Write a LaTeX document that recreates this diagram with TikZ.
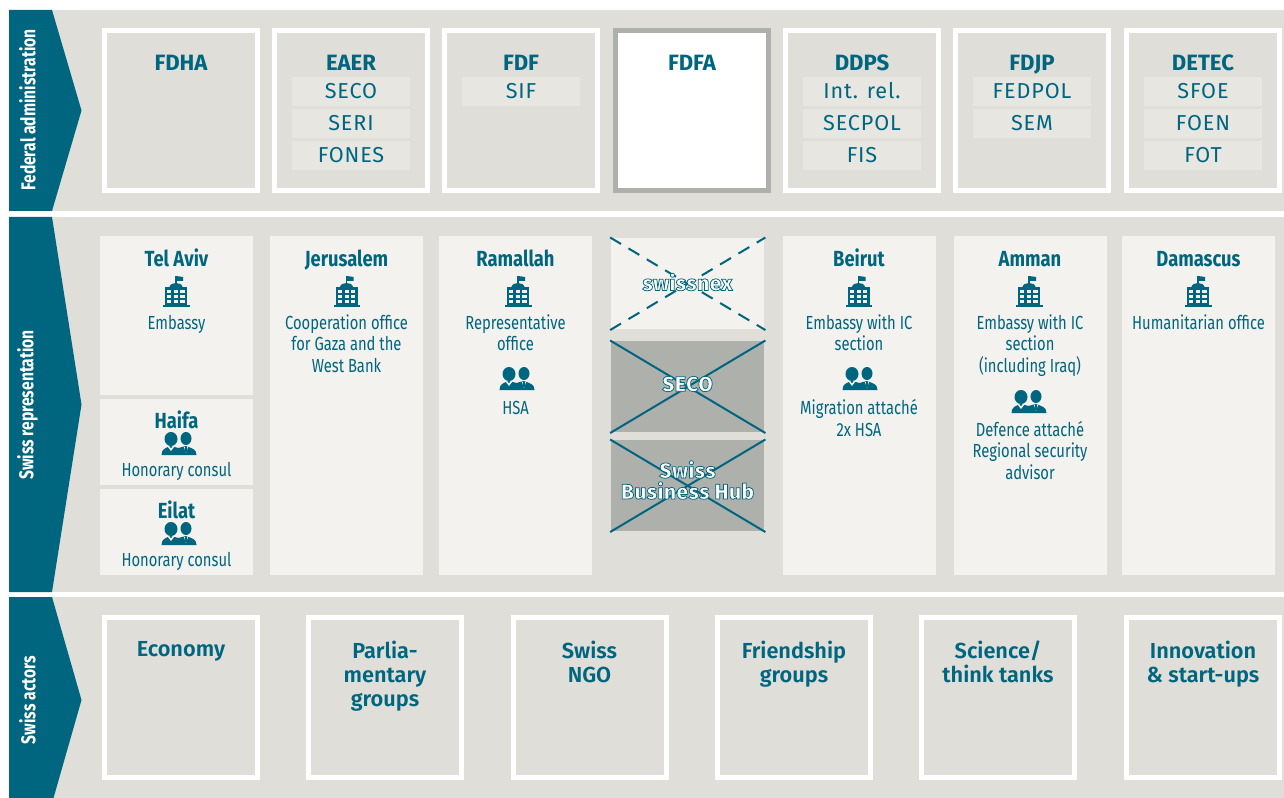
\documentclass[tikz,border=0pt]{standalone}
\usepackage{fontspec}
\setmainfont{Fira Sans}
\newfontfamily\condfont[FakeStretch=0.78]{Fira Sans}
\newfontfamily\cityfont[FakeStretch=0.84]{Fira Sans}
\newfontfamily\widefont[LetterSpace=4]{Fira Sans}
\newfontfamily\outlinefont[FakeBold=3.6, LetterSpace=2]{Fira Sans ExtraBold}
\definecolor{tealmain}{HTML}{00657F}
\definecolor{bandgrey}{HTML}{DFDED8}
\definecolor{lightpanel}{HTML}{F3F2EE}
\definecolor{subpanel}{HTML}{E7E6E1}
\definecolor{darkpanel}{HTML}{AEB0AC}
\newcommand{\px}{0.75pt}
\newcommand{\outlined}[1]{\special{pdf:code 0 0.396 0.498 RG}#1}
\tikzset{
  band/.style = {fill = bandgrey},
  arrowband/.style = {fill = tealmain},
  sidelabel/.style = {rotate = 90, text = white, font = \condfont\bfseries\fontsize{15}{18}\selectfont, inner sep = 0},
  officebox/.style = {draw = white, line width = 5*\px, fill = bandgrey, minimum width = 153*\px, minimum height = 160*\px, inner sep = 0},
  homebox/.style = {draw = darkpanel, line width = 5*\px, fill = white, minimum width = 153*\px, minimum height = 160*\px, inner sep = 0},
  officename/.style = {text = tealmain, font = \bfseries\fontsize{16.6}{18}\selectfont, text height = 11.4pt, text depth = 0pt, inner sep = 0},
  subbox/.style = {fill = subpanel, text = tealmain, font = \widefont\fontsize{16.2}{18}\selectfont, text height = 11.2pt, text depth = 0pt, minimum width = 118*\px, minimum height = 29*\px, inner sep = 0},
  panel/.style = {fill = lightpanel, anchor = north west, minimum width = 153*\px, inner sep = 0},
  darkbox/.style = {fill = darkpanel, anchor = north west, minimum width = 153*\px, minimum height = 91*\px, inner sep = 0},
  cityname/.style = {text = tealmain, font = \cityfont\bfseries\fontsize{16.4}{18}\selectfont, text height = 11.3pt, text depth = 0pt, inner sep = 0},
  citytext/.style = {text = tealmain, font = \condfont\fontsize{14.2}{16.1}\selectfont, align = center, anchor = north, inner sep = 0},
  crossline/.style = {draw = tealmain, line width = 2*\px, shorten <= -1*\px, shorten >= -1*\px},
  crossdash/.style = {crossline, dash pattern = on 9.5pt off 6.5pt},
  crosslabel/.style = {text = white, font = \outlinefont\fontsize{15.8}{15.8}\selectfont, align = center, inner sep = 0},
  actorname/.style = {text = tealmain, font = \fontspec{Fira Sans SemiBold}\fontsize{16.3}{18}\selectfont, align = center, anchor = north, inner sep = 0},
  pics/buildingicon/.style = {code = {
    \fill[tealmain] (-0.8, -16) rectangle (0.6, -8);
    \fill[tealmain] (0, -16) -- (7, -15) -- (7, -11) -- (0, -11) -- cycle;
    \fill[tealmain] (-7, -4) .. controls (-6, -8) and (-3, -9) .. (0, -9) .. controls (3, -9) and (6, -8) .. (7, -4) -- cycle;
    \fill[tealmain] (-11, -4.5) rectangle (11, 13);
    \fill[tealmain] (-13, 13) rectangle (13.5, 15);
    \fill[lightpanel] (-9, -2) rectangle (-5, 1.5);
    \fill[lightpanel] (-2, -2) rectangle (2, 1.5);
    \fill[lightpanel] (4, -2) rectangle (8.5, 1.5);
    \fill[lightpanel] (-9, 3.5) rectangle (-5, 6.5);
    \fill[lightpanel] (-2, 3.5) rectangle (2, 6.5);
    \fill[lightpanel] (4, 3.5) rectangle (8.5, 6.5);
    \fill[lightpanel] (-9, 8.5) rectangle (-5, 11.5);
    \fill[lightpanel] (-2, 8.5) rectangle (2, 11.5);
    \fill[lightpanel] (4, 8.5) rectangle (8.5, 11.5);
  }},
  pics/personsicon/.style = {code = {
    \fill[tealmain] (-6.5, -5) ellipse [x radius = 6.5, y radius = 7];
    \fill[tealmain] (8.5, -5.5) ellipse [x radius = 5.5, y radius = 6.5];
    \fill[tealmain] (-16, 11) .. controls (-16, 5) and (-12, 4) .. (-7, 2) -- (1, 4) -- (8, 2) .. controls (14, 4) and (19, 5) .. (19, 11) -- cycle;
    \fill[lightpanel] (-10, 2.5) -- (-6.5, 7) -- (-3, 2.5) -- (-4.5, 2) -- (-6.5, 4.5) -- (-8.5, 2) -- cycle;
    \fill[lightpanel] (6.2, 2.2) -- (8.5, 9) -- (10.8, 2.2) -- (9.3, 3.4) -- (8.5, 3) -- (7.7, 3.4) -- cycle;
    \fill[tealmain] (7.8, 3.2) rectangle (9.2, 8);
  }}
}
\begin{document}
\begin{tikzpicture}[x = 0.75pt, y = -0.75pt]
\useasboundingbox (0, 0) rectangle (1284, 798);

\fill[band] (9, 10) rectangle (1284, 211);
\fill[band] (9, 217) rectangle (1284, 592);
\fill[band] (9, 597) rectangle (1284, 798);
\fill[arrowband] (9, 10) -- (52, 10) -- (81.5, 110.5) -- (52, 211) -- (9, 211) -- cycle;
\fill[arrowband] (9, 217) -- (52, 217) -- (81.5, 404.5) -- (52, 592) -- (9, 592) -- cycle;
\fill[arrowband] (9, 597) -- (52, 597) -- (81.5, 700) -- (53.5, 798) -- (9, 798) -- cycle;
\node[sidelabel] (federallabel) at (27.5, 110){Federal administration};
\node[sidelabel] (representationlabel) at (27.5, 405){Swiss representation};
\node[sidelabel] (actorslabel) at (27.5, 700){Swiss actors};

\node[officebox] (fdhabox) at (181, 110.5){};
\node[officebox] (eaerbox) at (351, 110.5){};
\node[officebox] (fdfbox) at (521, 110.5){};
\node[homebox] (fdfabox) at (692, 110.5){};
\node[officebox] (ddpsbox) at (862, 110.5){};
\node[officebox] (fdjpbox) at (1032, 110.5){};
\node[officebox] (detecbox) at (1203, 110.5){};
\node[officename] (fdha) at (181, 63){FDHA};
\node[officename] (eaer) at (351, 63){EAER};
\node[officename] (fdf) at (521, 63){FDF};
\node[officename] (fdfa) at (692, 63){FDFA};
\node[officename] (ddps) at (862, 63){DDPS};
\node[officename] (fdjp) at (1032, 63){FDJP};
\node[officename] (detec) at (1203, 63){DETEC};
\node[subbox] (seco) at (351, 91.5){SECO};
\node[subbox] (seri) at (351, 123.5){SERI};
\node[subbox] (fones) at (351, 155.5){FONES};
\node[subbox] (sif) at (521, 91.5){SIF};
\node[subbox] (intrel) at (862, 91.5){Int. rel.};
\node[subbox] (secpol) at (862, 123.5){SECPOL};
\node[subbox] (fis) at (862, 155.5){FIS};
\node[subbox] (fedpol) at (1032, 91.5){FEDPOL};
\node[subbox] (sem) at (1032, 123.5){SEM};
\node[subbox] (sfoe) at (1203, 91.5){SFOE};
\node[subbox] (foen) at (1203, 123.5){FOEN};
\node[subbox] (fot) at (1203, 155.5){FOT};

\node[panel, minimum height = 159*\px] (telavivbox) at (100, 236){};
\node[panel, minimum height = 86*\px] (haifabox) at (100, 399){};
\node[panel, minimum height = 86*\px] (eilatbox) at (100, 489){};
\node[panel, minimum height = 339*\px] (jerusalembox) at (270, 236){};
\node[panel, minimum height = 339*\px] (ramallahbox) at (439, 236){};
\node[panel, minimum height = 339*\px] (beirutbox) at (783, 236){};
\node[panel, minimum height = 339*\px] (ammanbox) at (954, 236){};
\node[panel, minimum height = 339*\px] (damascusbox) at (1122, 236){};

\node[cityname] (telaviv) at (176.5, 258.5){Tel Aviv};
\node[cityname] (jerusalem) at (346.5, 258.5){Jerusalem};
\node[cityname] (ramallah) at (515.5, 258.5){Ramallah};
\node[cityname] (beirut) at (859, 258.5){Beirut};
\node[cityname] (amman) at (1030, 258.5){Amman};
\node[cityname] (damascus) at (1198.5, 258.5){Damascus};
\node[cityname] (haifa) at (176.5, 420.5){Haifa};
\node[cityname] (eilat) at (176.5, 510.5){Eilat};

\pic at (176, 292){buildingicon};
\pic at (346.5, 292){buildingicon};
\pic at (518, 292){buildingicon};
\pic at (858.5, 292){buildingicon};
\pic at (1029, 292){buildingicon};
\pic at (1198, 292){buildingicon};
\pic at (177.5, 444){personsicon};
\pic at (177.5, 534){personsicon};
\pic at (515.5, 379){personsicon};
\pic at (858.5, 379){personsicon};
\pic at (1027.5, 402){personsicon};

\node[citytext] (telavivtext) at (176.5, 315){Embassy};
\node[citytext] (jerusalemtext) at (346.5, 314.3){Cooperation office\\for Gaza and the\\West Bank};
\node[citytext] (ramallahtext) at (515.5, 314.3){Representative\\office};
\node[citytext] (ramallahhsa) at (515.5, 401){HSA};
\node[citytext] (beiruttext) at (859, 314.3){Embassy with IC\\section};
\node[citytext] (beirutstaff) at (859, 399.3){Migration attach\'e\\2x HSA};
\node[citytext] (ammantext) at (1030, 314.3){Embassy with IC\\section\\(including Iraq)};
\node[citytext] (ammanstaff) at (1030, 421){Defence attach\'e\\Regional security\\advisor};
\node[citytext] (damascustext) at (1198.5, 314.5){Humanitarian office};
\node[citytext] (haifatext) at (176.5, 462){Honorary consul};
\node[citytext] (eilattext) at (176.5, 552){Honorary consul};

\node[panel, minimum height = 91*\px] (swissnexbox) at (611, 238){};
\node[darkbox] (secobox) at (611, 341){};
\node[darkbox] (hubbox) at (611, 440){};
\draw[crossdash] (swissnexbox.north west) -- (swissnexbox.south east);
\draw[crossdash] (swissnexbox.south west) -- (swissnexbox.north east);
\draw[crossline] (secobox.north west) -- (secobox.south east);
\draw[crossline] (secobox.south west) -- (secobox.north east);
\draw[crossline] (hubbox.north west) -- (hubbox.south east);
\draw[crossline] (hubbox.south west) -- (hubbox.north east);
\node[crosslabel] (swissnex) at (687.5, 282){\outlined{swissnex}};
\node[crosslabel] (secolabel) at (687.5, 384){\outlined{SECO}};
\node[crosslabel] (hublabel) at (687.5, 480){\outlined{Swiss}\\\outlined{Business Hub}};

\node[officebox] (economybox) at (181, 697.5){};
\node[officebox] (parliamentbox) at (385, 697.5){};
\node[officebox] (ngobox) at (589.5, 697.5){};
\node[officebox] (friendshipbox) at (794, 697.5){};
\node[officebox] (sciencebox) at (998, 697.5){};
\node[officebox] (innovationbox) at (1203, 697.5){};
\node[actorname] (economy) at (181, 641){Economy};
\node[actorname] (parliament) at (385, 641){Parlia-\\mentary\\groups};
\node[actorname] (ngo) at (589.5, 641){Swiss\\NGO};
\node[actorname] (friendship) at (794, 641){Friendship\\groups};
\node[actorname] (science) at (998, 641){Science/\\think tanks};
\node[actorname] (innovation) at (1203, 641){Innovation\\\& start-ups};
\end{tikzpicture}
\end{document}
